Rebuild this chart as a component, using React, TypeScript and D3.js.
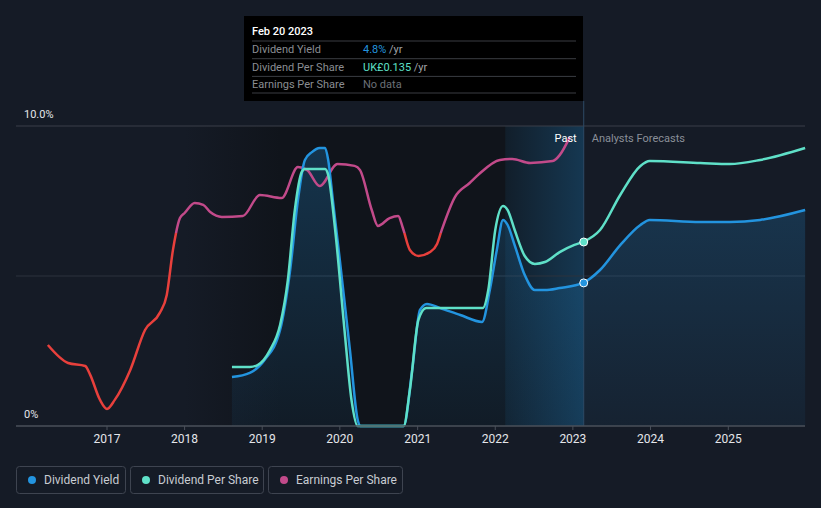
import React from "react";
import * as d3 from "d3";

const W = 821;
const H = 508;

// Year tick labels
const yearTicks = [2017, 2018, 2019, 2020, 2021, 2022, 2023, 2024, 2025];
const yTickLabels = ["0%", "10.0%"];

// Dividend yield (%) — [decimal year, value]
const yieldDates = [2018.61, 2018.84, 2019.03, 2019.23, 2019.36, 2019.46, 2019.55, 2019.64, 2019.74, 2019.81, 2019.85, 2019.91, 2020.0, 2020.13, 2020.23, 2020.26, 2020.82, 2020.93, 2021.03, 2021.12, 2021.29, 2021.55, 2021.83, 2021.93, 2022.02, 2022.1, 2022.16, 2022.25, 2022.38, 2022.51, 2022.64, 2022.83, 2023.13, 2023.35, 2023.61, 2023.87, 2023.99, 2024.64, 2025.02, 2025.41, 2025.99];
const yieldValues = [1.63, 1.77, 2.2, 3.2, 5.2, 7.53, 8.87, 9.13, 9.27, 9.27, 8.87, 7.53, 5.53, 2.53, 0.2, 0, 0, 1.87, 3.87, 4.07, 3.93, 3.7, 3.47, 4.53, 5.87, 6.87, 6.7, 6.03, 5.03, 4.53, 4.53, 4.6, 4.77, 5.2, 6.03, 6.7, 6.87, 6.8, 6.8, 6.87, 7.2];

// Dividend per share (UK£)
const dpsDates = [2018.61, 2018.84, 2018.94, 2019.1, 2019.23, 2019.33, 2019.42, 2019.51, 2019.55, 2019.81, 2019.85, 2019.94, 2020.06, 2020.15, 2020.23, 2020.82, 2020.9, 2021.01, 2021.11, 2021.84, 2021.91, 2022.0, 2022.1, 2022.16, 2022.25, 2022.38, 2022.51, 2022.64, 2022.83, 2023.02, 2023.13, 2023.35, 2023.61, 2023.87, 2023.99, 2024.64, 2025.02, 2025.41, 2025.99];
const dpsValues = [0.0433, 0.0433, 0.0447, 0.0557, 0.0741, 0.1070, 0.1584, 0.1864, 0.1886, 0.1886, 0.1842, 0.1438, 0.0704, 0.0191, 0, 0, 0.0264, 0.0778, 0.0866, 0.0866, 0.0998, 0.1438, 0.1614, 0.1584, 0.1438, 0.1247, 0.1189, 0.1203, 0.1276, 0.1329, 0.1350, 0.1438, 0.1695, 0.1908, 0.1944, 0.1930, 0.1922, 0.1952, 0.2040];

// Earnings per share (scaled, same axis)
const epsDates = [2016.24, 2016.5, 2016.72, 2016.78, 2016.91, 2017.0, 2017.1, 2017.3, 2017.49, 2017.68, 2017.77, 2017.85, 2017.94, 2018.0, 2018.13, 2018.24, 2018.33, 2018.48, 2018.75, 2018.97, 2019.25, 2019.46, 2019.58, 2019.74, 2019.97, 2020.19, 2020.26, 2020.41, 2020.49, 2020.64, 2020.75, 2020.81, 2020.9, 2021.01, 2021.16, 2021.25, 2021.31, 2021.48, 2021.67, 2021.78, 2022.06, 2022.22, 2022.45, 2022.74, 2022.83, 2022.96];
const epsValues = [2.7, 2.1, 2.0, 1.73, 0.87, 0.57, 0.87, 1.87, 3.2, 3.77, 4.37, 5.87, 6.93, 7.1, 7.43, 7.37, 7.13, 6.97, 7.0, 7.7, 7.6, 8.63, 8.53, 8.0, 8.73, 8.67, 8.53, 7.2, 6.67, 6.93, 7.0, 6.6, 5.87, 5.67, 5.8, 6.07, 6.53, 7.63, 8.1, 8.37, 8.87, 8.9, 8.77, 8.83, 9.03, 9.63];

const tooltipRows = [
  { label: "Dividend Yield", value: "4.8%", unit: " /yr", color: "#2394df" },
  { label: "Dividend Per Share", value: "UK£0.135", unit: " /yr", color: "#5fe0c8" },
  { label: "Earnings Per Share", value: "No data", unit: "", color: "#6b7078" },
];
const legendItems = [
  { label: "Dividend Yield", color: "#2394df" },
  { label: "Dividend Per Share", color: "#5fe0c8" },
  { label: "Earnings Per Share", color: "#c24a8a" },
];

function decToDate(d: number): Date {
  const y = Math.floor(d);
  const start = new Date(y, 0, 1).getTime();
  const end = new Date(y + 1, 0, 1).getTime();
  return new Date(start + (d - y) * (end - start));
}

export default function App() {
  const left = 16, right = 805, top = 126, bottom = 426;
  const x = d3.scaleTime().domain([new Date(2017, 0, 1), new Date(2025, 0, 1)]).range([107, 728.3]);
  const y = d3.scaleLinear().domain([0, 10]).range([bottom, top]);
  const yDps = d3.scaleLinear().domain([0, 0.2201]).range([bottom, top]);

  const nowX = x(decToDate(2023.14));
  const pastBandX = x(decToDate(2022.13));
  const darkStartX = x(decToDate(2018.0));

  const yieldPts: [number, number][] = yieldDates.map((d, i) => [x(decToDate(d)), y(yieldValues[i])]);
  const dpsPts: [number, number][] = dpsDates.map((d, i) => [x(decToDate(d)), yDps(dpsValues[i])]);
  const epsPts: [number, number][] = epsDates.map((d, i) => [x(decToDate(d)), y(epsValues[i])]);

  const line = d3.line<[number, number]>().x(p => p[0]).y(p => p[1]).curve(d3.curveMonotoneX);
  const area = d3.area<[number, number]>().x(p => p[0]).y0(bottom).y1(p => p[1]).curve(d3.curveMonotoneX);

  const threshY = y(6.43);

  const nowYield = y(4.77);
  const nowDps = yDps(0.135);

  return (
    <svg width={W} height={H} style={{ position: "absolute", left: 0, top: 0, display: "block" }}
      fontFamily="Roboto, 'Noto Sans', sans-serif">
      <defs>
        <linearGradient id="areaGrad" x1="0" y1="0" x2="0" y2="1">
          <stop offset="0%" stopColor="#2394df" stopOpacity={0.25} />
          <stop offset="100%" stopColor="#2394df" stopOpacity={0.06} />
        </linearGradient>
        <linearGradient id="pastGrad" x1="0" y1="0" x2="1" y2="0">
          <stop offset="0%" stopColor="#2394df" stopOpacity={0.08} />
          <stop offset="100%" stopColor="#2394df" stopOpacity={0.28} />
        </linearGradient>
        <linearGradient id="darkGrad" x1="0" y1="0" x2="1" y2="0">
          <stop offset="0%" stopColor="#10141b" stopOpacity={0} />
          <stop offset="30%" stopColor="#10141b" stopOpacity={1} />
          <stop offset="100%" stopColor="#10141b" stopOpacity={1} />
        </linearGradient>
        <clipPath id="redClip">
          <rect x={0} y={threshY} width={W} height={H} />
        </clipPath>
        <clipPath id="magClip">
          <rect x={0} y={0} width={W} height={threshY} />
        </clipPath>
      </defs>
      <rect x={0} y={0} width={W} height={H} fill="#151b26" />
      {/* past dark region */}
      <rect x={darkStartX} y={top} width={pastBandX - darkStartX} height={bottom - top} fill="url(#darkGrad)" />
      <rect x={pastBandX} y={top} width={nowX - pastBandX} height={bottom - top} fill="#10141b" />
      <rect x={pastBandX} y={top} width={nowX - pastBandX} height={bottom - top} fill="url(#pastGrad)" />

      {/* gridlines */}
      <line x1={left} x2={right} y1={top} y2={top} stroke="#3a3f48" strokeWidth={1} />
      <line x1={left} x2={right} y1={y(5)} y2={y(5)} stroke="#2c323c" strokeWidth={1} />

      {/* area */}
      <path d={area(yieldPts) || ""} fill="url(#areaGrad)" />

      {/* now line */}
      <line x1={nowX} x2={nowX} y1={101} y2={bottom} stroke="#2e4a66" strokeWidth={1} />

      {/* EPS */}
      <path d={line(epsPts) || ""} fill="none" stroke="#e8403c" strokeWidth={2.5} clipPath="url(#redClip)" />
      <path d={line(epsPts) || ""} fill="none" stroke="#c24a8a" strokeWidth={2.5} clipPath="url(#magClip)" />

      {/* yield & DPS */}
      <path d={line(yieldPts) || ""} fill="none" stroke="#2394df" strokeWidth={2.5} />
      <path d={line(dpsPts) || ""} fill="none" stroke="#5fe0c8" strokeWidth={2.5} />

      <circle cx={nowX} cy={nowDps} r={4} fill="#5fe0c8" stroke="#ffffff" strokeWidth={1} />
      <circle cx={nowX} cy={nowYield} r={4} fill="#2394df" stroke="#ffffff" strokeWidth={1} />

      {/* axis */}
      <line x1={left} x2={right} y1={bottom} y2={bottom} stroke="#4a505a" strokeWidth={1.5} />
      {yearTicks.map(yr => {
        const tx = x(new Date(yr, 0, 1));
        return (
          <g key={yr}>
            <line x1={tx} x2={tx} y1={bottom} y2={bottom + 4} stroke="#4a505a" strokeWidth={1} />
            <text x={tx} y={443} textAnchor="middle" fontSize={12} fill="#e4e6ea">{yr}</text>
          </g>
        );
      })}
      <text x={24} y={418} fontSize={11} fill="#e4e6ea">{yTickLabels[0]}</text>
      <text x={24} y={118} fontSize={11} fill="#e4e6ea">{yTickLabels[1]}</text>

      <text x={nowX - 7} y={142} textAnchor="end" fontSize={11} fill="#ffffff">Past</text>
      <text x={nowX + 8} y={142} fontSize={11} fill="#8a8f98">Analysts Forecasts</text>

      {/* tooltip */}
      <rect x={244} y={16} width={339} height={85} fill="#000000" />
      <text x={252} y={35} fontSize={11} fontWeight={500} fill="#ffffff">Feb 20 2023</text>
      {tooltipRows.map((r, i) => {
        const ry = 53 + i * 17.7;
        return (
          <g key={r.label}>
            <line x1={252} x2={576} y1={ry - 12} y2={ry - 12} stroke="#3a3d42" strokeWidth={1} />
            <text x={252} y={ry} fontSize={11} fill="#8a8d92">{r.label}</text>
            <text x={363} y={ry} fontSize={11} fill={r.color}>{r.value}<tspan fill="#a0a3a8">{r.unit}</tspan></text>
          </g>
        );
      })}
      <line x1={252} x2={576} y1={93} y2={93} stroke="#3a3d42" strokeWidth={1} />

      {/* legend */}
      {(() => {
        let lx = 16;
        const widths = [109, 133, 134];
        return legendItems.map((it, i) => {
          const bx = lx;
          lx += widths[i] + 5;
          return (
            <g key={it.label}>
              <rect x={bx + 0.5} y={466.5} width={widths[i]} height={27} rx={3} fill="none" stroke="#3e4450" strokeWidth={1} />
              <circle cx={bx + 16} cy={480} r={4} fill={it.color} />
              <text x={bx + 28} y={484} fontSize={12} fill="#c8ccd2">{it.label}</text>
            </g>
          );
        });
      })()}
    </svg>
  );
}
